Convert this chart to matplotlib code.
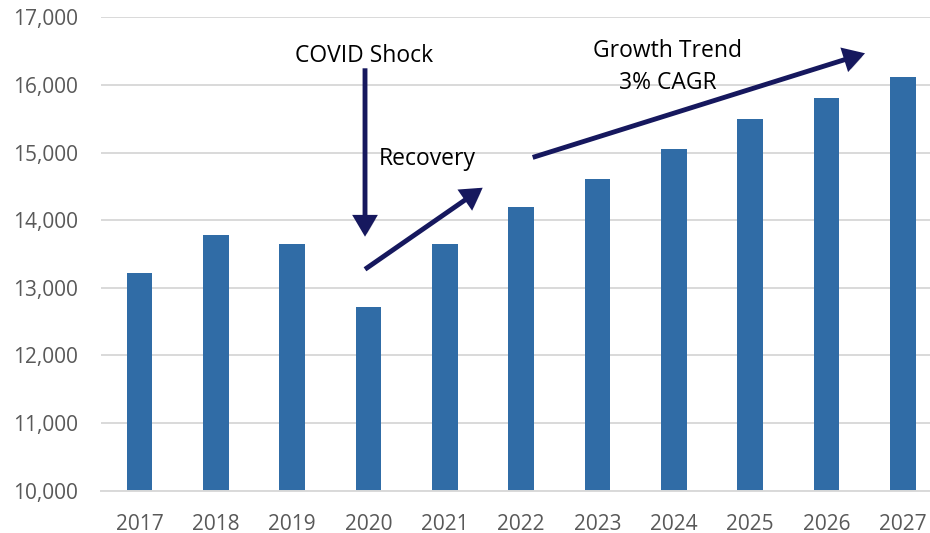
import matplotlib
matplotlib.use("Agg")
import matplotlib.pyplot as plt
from matplotlib.patches import FancyArrowPatch
from matplotlib import patheffects as pe

plt.rcParams['font.family'] = ['Open Sans', 'DejaVu Sans']

years = ['2017', '2018', '2019', '2020', '2021', '2022', '2023', '2024', '2025', '2026', '2027']
values = [13226, 13779, 13648, 12719, 13653, 14191, 14608, 15050, 15503, 15809, 16121]
y_ticks = [10000, 11000, 12000, 13000, 14000, 15000, 16000, 17000]

bar_color = '#306ca6'
arrow_color = '#16185e'
grid_color = '#d9d9d9'
label_color = '#595959'

fig = plt.figure(figsize=(9.3, 5.33), dpi=100)
ax = fig.add_axes([101.3 / 930, (533 - 490.7) / 533, (940.9 - 101.3) / 930, (490.7 - 17.3) / 533])

x = list(range(len(years)))
ax.bar(x, values, width=0.337, color=bar_color, zorder=2)

ax.set_xlim(-0.5, len(years) - 0.5)
ax.set_ylim(10000, 17000)
ax.set_yticks(y_ticks)
ax.set_yticklabels([f"{v:,}" for v in y_ticks])
ax.set_xticks(x)
ax.set_xticklabels(years)

ax.yaxis.grid(True, color=grid_color, linewidth=1.4, zorder=0)
ax.set_axisbelow(True)
for s in ['top', 'right', 'left']:
    ax.spines[s].set_visible(False)
ax.spines['bottom'].set_color(grid_color)
ax.spines['bottom'].set_linewidth(1.4)
ax.tick_params(axis='both', length=0, labelsize=15, labelcolor=label_color)
ax.tick_params(axis='y', pad=16.5)
ax.tick_params(axis='x', pad=16.5)

# annotations (data coordinates: category index, value)
txt_kw = dict(fontsize=16.5, color='black', va='baseline', zorder=5)
ax.text(2.942, 16339, 'COVID Shock', ha='center', **txt_kw)
ax.text(3.138, 14816, 'Recovery', ha='left', **txt_kw)
ax.text(6.921, 16411, 'Growth Trend', ha='center', **txt_kw)
ax.text(6.925, 15940, '3% CAGR', ha='center', **txt_kw)

arrows = [
    ((2.955, 16246), (2.955, 13756)),
    ((2.955, 13274), (4.497, 14480)),
    ((5.152, 14928), (9.506, 16468)),
]
for start, end in arrows:
    a = FancyArrowPatch(start, end, arrowstyle='-|>,head_length=1.05,head_width=0.62',
                        mutation_scale=10, color=arrow_color, linewidth=3.5,
                        shrinkA=0, shrinkB=0, zorder=6, clip_on=False,
                        joinstyle='miter', capstyle='butt')
    a.set_path_effects([pe.SimplePatchShadow(offset=(1.5, -1.5), alpha=0.18), pe.Normal()])
    ax.add_patch(a)

fig.savefig('out.png', dpi=100)
